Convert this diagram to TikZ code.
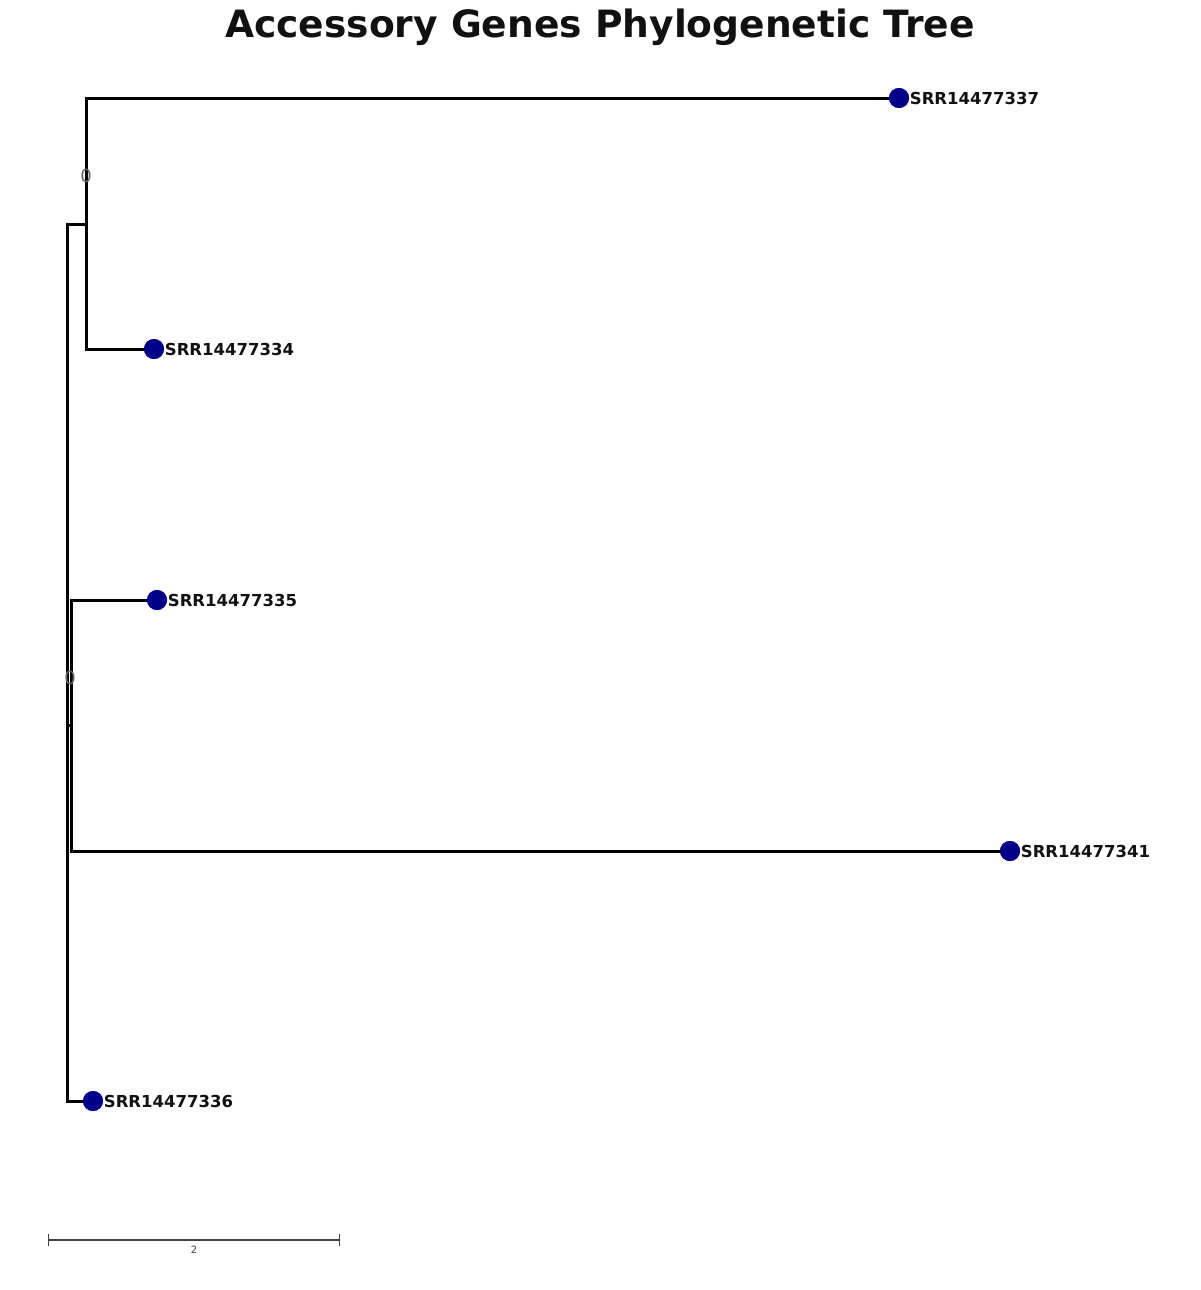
\documentclass[tikz,border=0pt]{standalone}
\usepackage{fontspec}
\setmainfont{DejaVu Sans}
\usepackage{xcolor}
\usetikzlibrary{positioning,arrows.meta}
\definecolor{TipBlue}{HTML}{00008B}
\definecolor{TextDark}{HTML}{111111}
\definecolor{ScaleGray}{HTML}{444444}

\begin{document}
\begin{tikzpicture}[
        x=1pt, y=-1pt,
        branch/.style={draw=black, line width=3pt, line cap=rect},
        tip/.style={circle, fill=TipBlue, inner sep=0pt, minimum size=20pt},
        lab/.style={font=\fontsize{16.5}{18}\selectfont\bfseries, text=TextDark,
            inner sep=0.5pt, anchor=west},
        supp/.style={font=\fontsize{18}{20}\selectfont, text=gray!80!black, inner sep=0pt},
        scalebar/.style={draw=ScaleGray, line width=1.5pt,
            {Bar[width=12pt,line width=1pt]}-{Bar[width=12pt,line width=1pt]}},
      ]
      \useasboundingbox (0,0) rectangle (1200,1290);

      % Title
      \node[font=\fontsize{37.6}{44}\selectfont\bfseries, text=TextDark] (title) at (600,27)
        {Accessory Genes Phylogenetic Tree};

      % Tips
      \node[tip] (t337) at (899,98)   {};
      \node[tip] (t334) at (154,349)  {};
      \node[tip] (t335) at (157,600)  {};
      \node[tip] (t341) at (1010,851) {};
      \node[tip] (t336) at (93,1101)  {};

      % Internal nodes
      \coordinate (root) at (67,224);
      \coordinate (nA)   at (86,224);
      \coordinate (nB)   at (71,725);

      % Branches
      \draw[branch] (nA) |- (t337);
      \draw[branch] (nA) |- (t334);
      \draw[branch] (nB) |- (t335);
      \draw[branch] (nB) |- (t341);
      \draw[branch] (nA) -- (root) |- (t336);
      \draw[branch] (root |- nB) -- (nB);
      \foreach \t in {t337,t334,t335,t341,t336}
        \node[tip] at (\t) {};

      % Labels
      \node[lab, right=0pt of t337] (l337) {SRR14477337};
      \node[lab, right=0pt of t334] (l334) {SRR14477334};
      \node[lab, right=0pt of t335] (l335) {SRR14477335};
      \node[lab, right=0pt of t341] (l341) {SRR14477341};
      \node[lab, right=0pt of t336] (l336) {SRR14477336};

      % Support values
      \node[supp] (sA) at (86,176) {0};
      \node[supp] (sB) at (70,678) {0};

      % Scale bar
      \coordinate (sb0) at (48,1240);
      \coordinate (sb1) at (340,1240);
      \draw[scalebar] (sb0) -- (sb1);
      \node[font=\fontsize{10}{12}\selectfont, text=ScaleGray] (sbl) at (194,1250) {2};

    \end{tikzpicture}
\end{document}
